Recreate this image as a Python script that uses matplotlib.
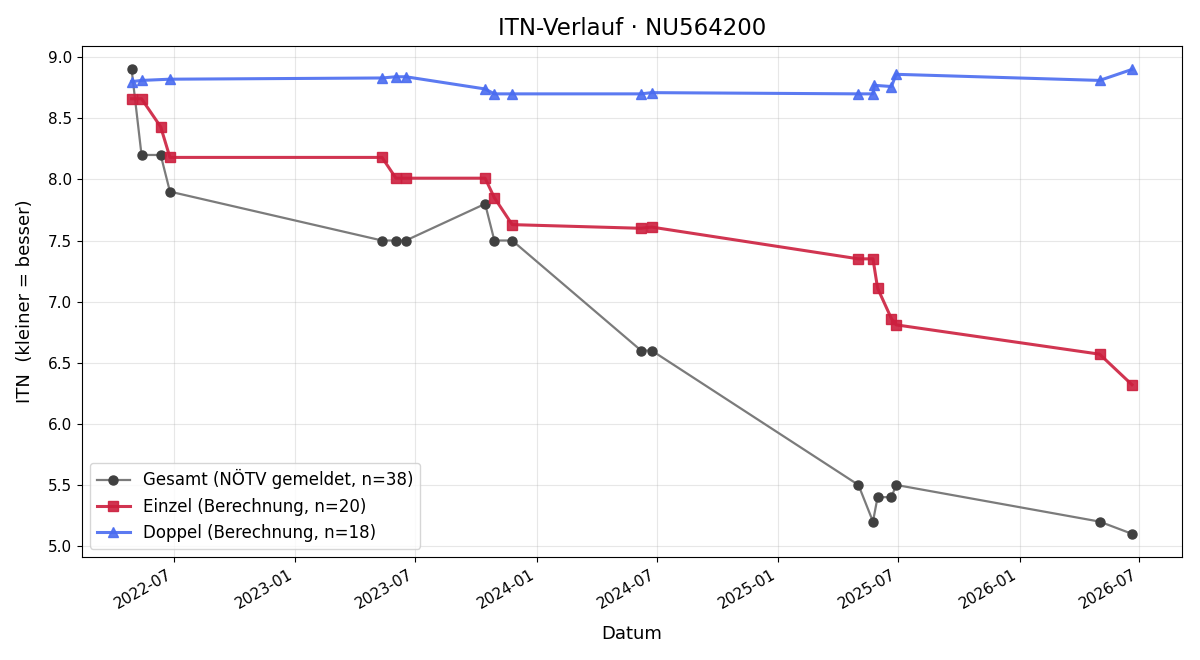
import matplotlib
matplotlib.use("Agg")
import matplotlib.pyplot as plt
import matplotlib.dates as mdates
import pandas as pd

# Gesamt (NÖTV gemeldet)
gesamt_dates = ["2022-04-28", "2022-05-13", "2022-06-11", "2022-06-25",
                "2023-05-12", "2023-06-02", "2023-06-17",
                "2023-10-15", "2023-10-29", "2023-11-25",
                "2024-06-07", "2024-06-23",
                "2025-05-02", "2025-05-24", "2025-05-31", "2025-06-21", "2025-06-28",
                "2026-05-02", "2026-06-20"]
gesamt_itn = [8.9, 8.2, 8.2, 7.9,
              7.5, 7.5, 7.5,
              7.8, 7.5, 7.5,
              6.6, 6.6,
              5.5, 5.2, 5.4, 5.4, 5.5,
              5.2, 5.1]

# Einzel (Berechnung)
einzel_dates = ["2022-04-28", "2022-05-13", "2022-06-11", "2022-06-25",
                "2023-05-12", "2023-06-02", "2023-06-17",
                "2023-10-15", "2023-10-29", "2023-11-25",
                "2024-06-07", "2024-06-23",
                "2025-05-02", "2025-05-24", "2025-05-31", "2025-06-21", "2025-06-28",
                "2026-05-02", "2026-06-20"]
einzel_itn = [8.66, 8.66, 8.43, 8.18,
              8.18, 8.01, 8.01,
              8.01, 7.85, 7.63,
              7.60, 7.61,
              7.35, 7.35, 7.11, 6.86, 6.81,
              6.57, 6.32]

# Doppel (Berechnung)
doppel_dates = ["2022-04-28", "2022-05-13", "2022-06-25",
                "2023-05-12", "2023-06-02", "2023-06-17",
                "2023-10-15", "2023-10-29", "2023-11-25",
                "2024-06-07", "2024-06-23",
                "2025-05-02", "2025-05-24", "2025-05-26", "2025-06-21", "2025-06-28",
                "2026-05-02", "2026-06-20"]
doppel_itn = [8.80, 8.81, 8.82,
              8.83, 8.84, 8.84,
              8.74, 8.70, 8.70,
              8.70, 8.71,
              8.70, 8.70, 8.77, 8.76, 8.86,
              8.81, 8.90]

fig, ax = plt.subplots(figsize=(12, 6.6), dpi=100)

ax.plot(pd.to_datetime(gesamt_dates), gesamt_itn, color="#7b7b7b", linewidth=1.6,
        marker="o", markersize=6.5, markerfacecolor="#404040", markeredgecolor="#404040",
        label="Gesamt (NÖTV gemeldet, n=38)")
ax.plot(pd.to_datetime(einzel_dates), einzel_itn, color="#cc1f3e", linewidth=2.2,
        marker="s", markersize=7.5, alpha=0.9,
        label="Einzel (Berechnung, n=20)")
ax.plot(pd.to_datetime(doppel_dates), doppel_itn, color="#4a6cf0", linewidth=2.2,
        marker="^", markersize=7.5, alpha=0.9,
        label="Doppel (Berechnung, n=18)")

ax.set_title("ITN-Verlauf · NU564200", fontsize=16.5, pad=8)
ax.set_xlabel("Datum", fontsize=13, labelpad=10)
ax.set_ylabel("ITN  (kleiner = besser)", fontsize=13, labelpad=10)
ax.grid(True, alpha=0.3)
ax.xaxis.set_major_locator(mdates.MonthLocator(bymonth=(1, 7)))
ax.xaxis.set_major_formatter(mdates.DateFormatter("%Y-%m"))
ax.tick_params(labelsize=11)
fig.autofmt_xdate()
ax.legend(loc="lower left", fontsize=12)

fig.subplots_adjust(left=0.068, right=0.985, top=0.930, bottom=0.156)
fig.savefig("out.png")
